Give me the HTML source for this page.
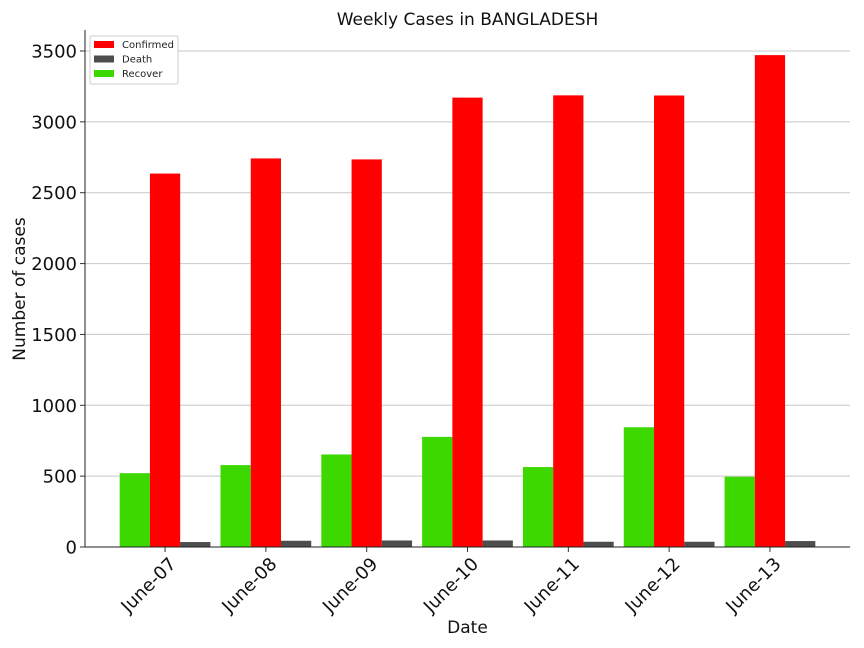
<!DOCTYPE html>
<html><head><meta charset="utf-8"><style>
body{margin:0;background:#fff}
svg{display:block;font-family:"DejaVu Sans","Liberation Sans",sans-serif}
</style></head><body>
<svg id="c" width="864" height="648"></svg>
<script>
const categories=["June-07","June-08","June-09","June-10","June-11","June-12","June-13"];
const confirmed=[2635,2742,2735,3171,3187,3186,3471];
const death=[35,44,46,46,37,37,42];
const recover=[521,578,653,777,564,845,496];
const yTicks=[0,500,1000,1500,2000,2500,3000,3500];
const seriesNames=["Confirmed","Death","Recover"];
const colors={Confirmed:"#ff0000",Death:"#4d4d4d",Recover:"#3dd800"};

const NS="http://www.w3.org/2000/svg";
const svg=document.getElementById("c");
const L=85,R=850,T=30,B=547;
const xmin=-0.794,xmax=categories.length-1+0.794;
const ymax=3500*(B-T)/(B-51);
function X(v){return L+(v-xmin)/(xmax-xmin)*(R-L);}
function Y(v){return B-v/ymax*(B-T);}
function el(tag,attrs,parent){const e=document.createElementNS(NS,tag);for(const k in attrs)e.setAttribute(k,attrs[k]);(parent||svg).appendChild(e);return e;}

yTicks.forEach(t=>{
  const y=Y(t);
  const g=el("line",{x1:L,x2:R,y1:y,y2:y,stroke:"#c8c8c8","stroke-width":1});
  
  
  el("line",{x1:L-5,x2:L,y1:y,y2:y,stroke:"#333"});
  const tx=el("text",{x:L-8,y:y+6.5,"text-anchor":"end","font-size":18,fill:"#111"});
  tx.textContent=t;
  
  
});

const w=0.3;
const unit=(R-L)/(xmax-xmin);
categories.forEach((c,i)=>{
  [["Recover",recover,-w],["Confirmed",confirmed,0],["Death",death,w]].forEach(([n,arr,off])=>{
    const x0=X(i+off-w/2), y=Y(arr[i]);
    const r=el("rect",{x:x0,y:y,width:w*unit,height:B-y,fill:colors[n]});
    
    
  });
  const xc=X(i);
  el("line",{x1:xc,x2:xc,y1:B,y2:B+5,stroke:"#333"});
  const tx=el("text",{transform:`translate(${xc+12},${B+18}) rotate(-45)`,"text-anchor":"end","font-size":18,fill:"#111"});
  tx.textContent=c;
  
  
});

el("line",{x1:L,x2:L,y1:T,y2:B,stroke:"#222","stroke-width":1});
el("line",{x1:L,x2:R,y1:B,y2:B,stroke:"#222","stroke-width":1});

let t=el("text",{x:(L+R)/2,y:25,"text-anchor":"middle","font-size":17,fill:"#111"});
t.textContent="Weekly Cases in BANGLADESH";


t=el("text",{x:(L+R)/2,y:633,"text-anchor":"middle","font-size":17,fill:"#111"});
t.textContent="Date";


t=el("text",{transform:"translate(25,289) rotate(-90)","text-anchor":"middle","font-size":17,fill:"#111"});
t.textContent="Number of cases";



const lg=el("g",{});


el("rect",{x:90,y:36,width:88,height:48,rx:2,fill:"#fff",stroke:"#ccc"},lg);
seriesNames.forEach((n,k)=>{
  const y=44+k*14.5;
  el("rect",{x:94,y:y-3,width:20,height:7,fill:colors[n]},lg);
  const tx=el("text",{x:122,y:y+4,"font-size":10,fill:"#222"},lg);
  tx.textContent=n;
  
  
});
</script>
</body></html>
